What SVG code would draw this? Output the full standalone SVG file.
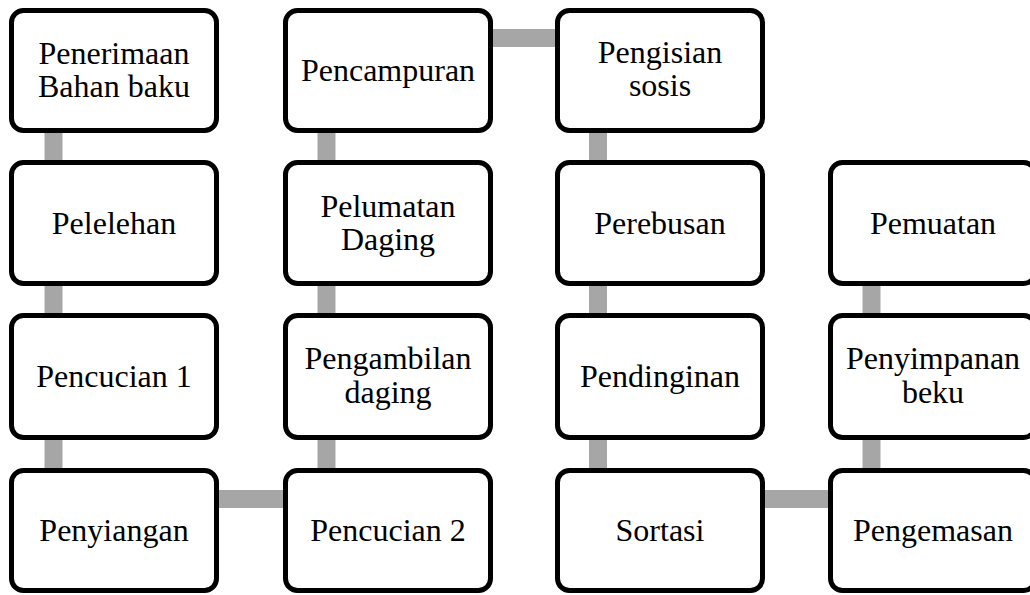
<svg xmlns="http://www.w3.org/2000/svg" width="1030" height="595" viewBox="0 0 1030 595">
<style>
.box{fill:#fff;stroke:#000;stroke-width:5}
.con{stroke:#a6a6a6;stroke-width:18;fill:none}
text{font-family:"Liberation Serif","Times New Roman",serif;font-size:32px;fill:#000;text-anchor:middle}
</style>
<rect width="1030" height="595" fill="#fff"/>
<g id="connectors">
<line class="con" x1="53.5" y1="128" x2="53.5" y2="165"/>
<line class="con" x1="53.5" y1="281" x2="53.5" y2="318"/>
<line class="con" x1="53.5" y1="435" x2="53.5" y2="473"/>
<line class="con" x1="214" y1="499" x2="288" y2="499"/>
<line class="con" x1="326.5" y1="435" x2="326.5" y2="473"/>
<line class="con" x1="326.5" y1="281" x2="326.5" y2="318"/>
<line class="con" x1="326.5" y1="128" x2="326.5" y2="165"/>
<line class="con" x1="487" y1="38" x2="560" y2="38"/>
<line class="con" x1="598" y1="128" x2="598" y2="165"/>
<line class="con" x1="598" y1="281" x2="598" y2="318"/>
<line class="con" x1="598" y1="435" x2="598" y2="473"/>
<line class="con" x1="760" y1="499" x2="833" y2="499"/>
<line class="con" x1="871.5" y1="435" x2="871.5" y2="473"/>
<line class="con" x1="871.5" y1="281" x2="871.5" y2="318"/>
</g>
<g id="n1"><rect class="box" x="11.5" y="10.5" width="205" height="120" rx="12"/><text x="114" y="63.5">Penerimaan</text><text x="114" y="97">Bahan baku</text></g>
<g id="n2"><rect class="box" x="11.5" y="162.5" width="205" height="121" rx="12"/><text x="114" y="233.5">Pelelehan</text></g>
<g id="n3"><rect class="box" x="11.5" y="315.5" width="205" height="122" rx="12"/><text x="114" y="386.5">Pencucian 1</text></g>
<g id="n4"><rect class="box" x="11.5" y="470.5" width="205" height="120" rx="12"/><text x="114" y="541">Penyiangan</text></g>
<g id="n5"><rect class="box" x="285.5" y="470.5" width="205" height="120" rx="12"/><text x="388" y="541">Pencucian 2</text></g>
<g id="n6"><rect class="box" x="285.5" y="315.5" width="205" height="122" rx="12"/><text x="388" y="369">Pengambilan</text><text x="388" y="402.5">daging</text></g>
<g id="n7"><rect class="box" x="285.5" y="162.5" width="205" height="121" rx="12"/><text x="388" y="216.5">Pelumatan</text><text x="388" y="249.5">Daging</text></g>
<g id="n8"><rect class="box" x="285.5" y="10.5" width="205" height="120" rx="12"/><text x="388" y="81">Pencampuran</text></g>
<g id="n9"><rect class="box" x="557.5" y="10.5" width="205" height="120" rx="12"/><text x="660" y="63">Pengisian</text><text x="660" y="96">sosis</text></g>
<g id="n10"><rect class="box" x="557.5" y="162.5" width="205" height="121" rx="12"/><text x="660" y="233.5">Perebusan</text></g>
<g id="n11"><rect class="box" x="557.5" y="315.5" width="205" height="122" rx="12"/><text x="660" y="386.5">Pendinginan</text></g>
<g id="n12"><rect class="box" x="557.5" y="470.5" width="205" height="120" rx="12"/><text x="660" y="541">Sortasi</text></g>
<g id="n13"><rect class="box" x="830.5" y="470.5" width="205" height="120" rx="12"/><text x="933" y="541">Pengemasan</text></g>
<g id="n14"><rect class="box" x="830.5" y="315.5" width="205" height="122" rx="12"/><text x="933" y="369">Penyimpanan</text><text x="933" y="402.5">beku</text></g>
<g id="n15"><rect class="box" x="830.5" y="162.5" width="205" height="121" rx="12"/><text x="933" y="233.5">Pemuatan</text></g>
</svg>
